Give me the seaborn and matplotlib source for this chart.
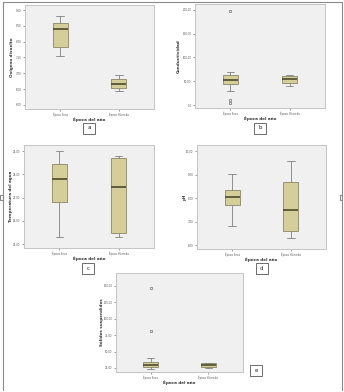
import matplotlib
matplotlib.use("Agg")
import matplotlib.pyplot as plt
import seaborn as sns
import pandas as pd
from matplotlib.patches import Rectangle
from matplotlib.lines import Line2D

sns.set_theme(style="white")
plt.rcParams['font.family'] = ['DejaVu Sans']

categories = ["Época Seca", "Época Húmeda"]
xlabel = "Época del año"

# Oxígeno disuelto
oxi_seca = [7.55, 7.70, 7.83, 8.10, 8.40, 8.50, 8.59, 8.70, 8.81]
oxi_humeda = [6.44, 6.50, 6.54, 6.60, 6.66, 6.75, 6.82, 6.90, 6.95]
oxi_ticks = [6.0, 6.5, 7.0, 7.5, 8.0, 8.5, 9.0]

# Conductividad
cond_seca = [4.2, 10.5, 29.5, 44.2, 47.0, 50.0, 52.6, 56.0, 60.0, 63.2, 66.0, 69.5, 197.9]
cond_humeda = [40.0, 44.0, 46.3, 50.0, 54.7, 58.0, 61.0, 62.0, 63.2]
cond_ticks = [0, 50, 100, 150, 200]

# Temperatura del agua
temp_seca = [25.30, 26.20, 26.81, 27.40, 27.80, 28.10, 28.44, 28.70, 29.00]
temp_humeda = [25.30, 25.40, 25.46, 26.50, 27.45, 28.20, 28.69, 28.75, 28.80]
temp_ticks = [25, 26, 27, 28, 29]

# pH
ph_seca = [6.81, 7.40, 7.70, 7.90, 8.06, 8.20, 8.34, 8.60, 9.01]
ph_humeda = [6.31, 6.45, 6.61, 7.10, 7.50, 8.10, 8.69, 9.10, 9.59]
ph_ticks = [6, 7, 8, 9, 10]

# Sólidos suspendidos
sol_seca = [23.0, 24.8, 25.6, 26.1, 27.8, 28.9, 29.6, 31.2, 32.6, 33.7, 40.7, 81.4, 147.4]
sol_humeda = [25.0, 26.0, 27.0, 28.5, 30.0, 31.0, 32.2, 32.8, 33.2]
sol_ticks = [25, 50, 75, 100, 125, 150]

W, H = 344, 392
fig = plt.figure(figsize=(W / 100, H / 100), dpi=100)
fig.patch.set_facecolor("white")

def fpos(l, r, t, b):
    return [l / W, 1 - b / H, (r - l) / W, (b - t) / H]

panels = [
    ("Oxígeno disuelto", oxi_seca, oxi_humeda, oxi_ticks, (5.87, 9.16), (25, 154, 5, 109), "a", (89, 128), 12.5),
    ("Conductividad", cond_seca, cond_humeda, cond_ticks, (-6.3, 212.6), (195, 325, 4, 108), "b", (260, 128), 178.5),
    ("Temperatura del agua", temp_seca, temp_humeda, temp_ticks, (24.83, 29.26), (24, 154, 145, 248), "c", (88, 268), 11.5),
    ("pH", ph_seca, ph_humeda, ph_ticks, (5.83, 10.26), (197, 326, 145, 249), "d", (262, 268), 185),
    ("Sólidos suspendidos", sol_seca, sol_humeda, sol_ticks, (18.9, 169.8), (116, 243, 273, 372), "e", (256, 370), 102.5),
]

box_fill = "#d5ce98"
box_edge = "#8a8766"
median_c = "#4d4a2c"
whisk_c = "#7f7f7f"

for ylabel, s1, s2, ticks, ylim, px, letter, lpos, ylx in panels:
    l, r, t, b = px
    ax = fig.add_axes(fpos(l, r, t, b))
    df = pd.DataFrame({
        "epoca": [categories[0]] * len(s1) + [categories[1]] * len(s2),
        "valor": list(s1) + list(s2),
    })
    sns.boxplot(data=df, x="epoca", y="valor", order=categories, ax=ax,
                width=0.26, color=box_fill, linewidth=0.6,
                boxprops=dict(facecolor=box_fill, edgecolor=box_edge, linewidth=0.6),
                medianprops=dict(color=median_c, linewidth=1.2),
                whiskerprops=dict(color=whisk_c, linewidth=0.6),
                capprops=dict(color=whisk_c, linewidth=0.6),
                flierprops=dict(marker="o", markersize=1.8, markerfacecolor="none",
                                markeredgecolor="#555555", markeredgewidth=0.4))
    ax.set_facecolor("#f0f0f0")
    ax.set_xlim(-0.6, 1.6)
    ax.set_ylim(*ylim)
    ax.set_yticks(ticks)
    ax.set_yticklabels([f"{v:.2f}".replace(".", ",") if v != 0 else ",00" for v in ticks])
    ax.tick_params(axis="both", labelsize=1.9, length=1.5, width=0.4, colors="#555555",
                   pad=1, left=True, bottom=True)
    ax.set_xticks([0, 1])
    ax.set_xticklabels(categories)
    for sp in ax.spines.values():
        sp.set_color("#c4c4c4")
        sp.set_linewidth(0.7)
    ax.set_xlabel(xlabel, fontsize=3, fontweight="bold", color="#333333", va="center")
    ax.set_ylabel(ylabel, fontsize=3, fontweight="bold", color="#333333", va="center")
    ax.xaxis.set_label_coords(0.5, -10.5 / (b - t))
    ax.yaxis.set_label_coords((ylx - l) / (r - l), 0.5)
    # label box
    bx, by = lpos
    fig.patches.append(Rectangle(((bx - 6) / W, 1 - (by + 5.5) / H), 12 / W, 11 / H,
                                 transform=fig.transFigure, fill=False,
                                 edgecolor="#555555", linewidth=0.6))
    fig.text(bx / W, 1 - by / H, letter, ha="center", va="center", fontsize=4, color="#222222")

# page frame
gray = "#8a8a8a"
def fline(xs, ys):
    fig.lines.append(Line2D([x / W for x in xs], [1 - y / H for y in ys],
                            transform=fig.transFigure, color=gray, linewidth=0.8))

fline([3, 3, 342, 342], [390, 2, 2, 390])
fline([3, 0, 0, 3], [195, 195, 200, 200])
fline([342, 339.5, 339.5, 342], [195, 195, 200, 200])

fig.savefig("out.png", dpi=100, facecolor="white")
